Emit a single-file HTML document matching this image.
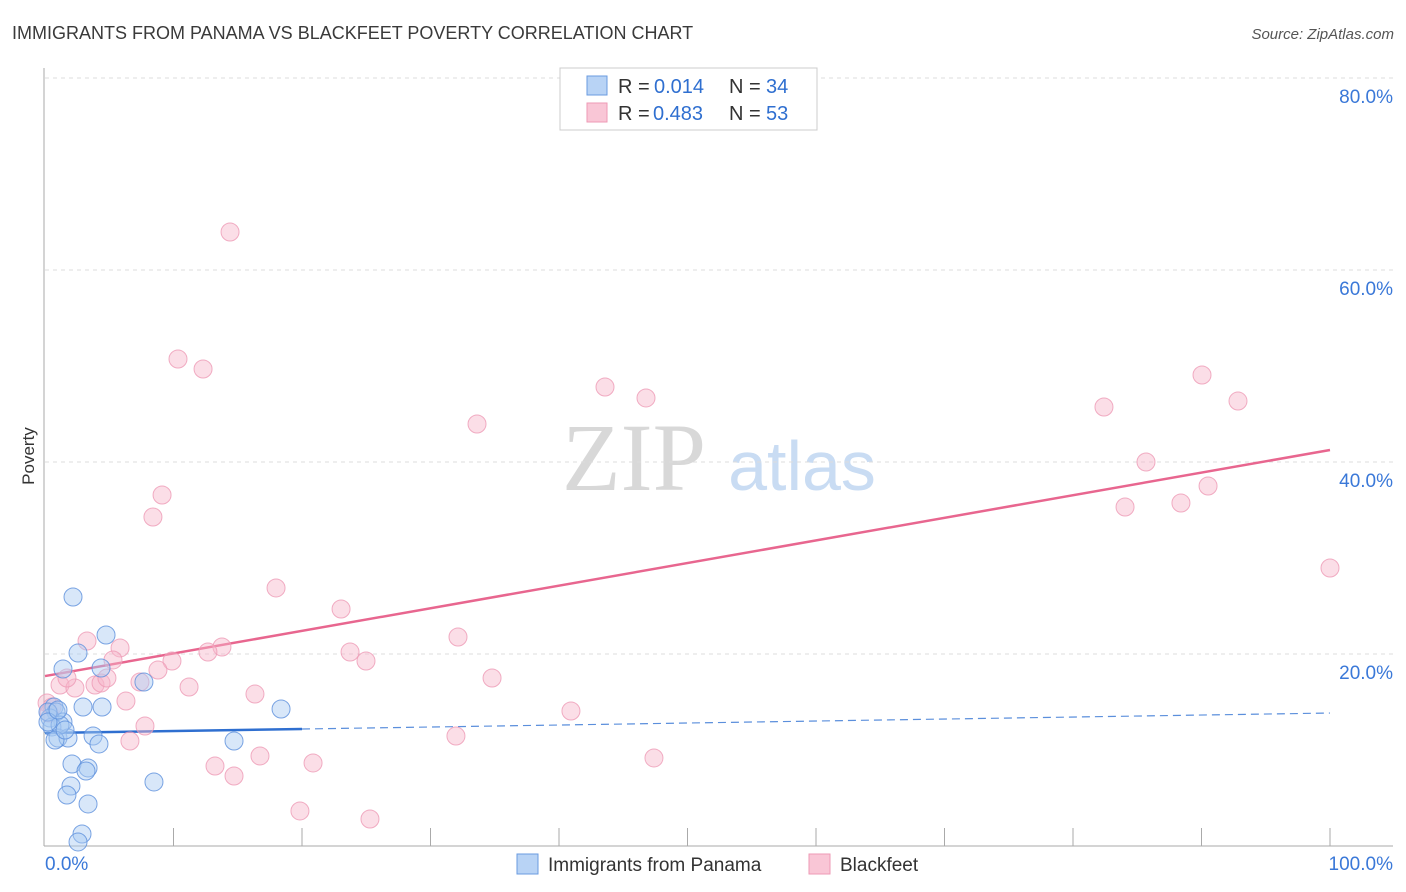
<!DOCTYPE html>
<html><head><meta charset="utf-8"><style>
body{margin:0;background:#fff;width:1406px;height:892px;overflow:hidden;font-family:"Liberation Sans",sans-serif}
</style></head><body>
<svg id="chart" width="1406" height="892" style="position:absolute;left:0;top:0">
<text x="12" y="39" font-size="18" fill="#3a3a3a">IMMIGRANTS FROM PANAMA VS BLACKFEET POVERTY CORRELATION CHART</text>
<text x="1394" y="39" font-size="15" fill="#555" font-style="italic" text-anchor="end">Source: ZipAtlas.com</text>
<text x="34" y="456" font-size="17" fill="#333" text-anchor="middle" transform="rotate(-90 34 456)">Poverty</text>
<g>
<text x="634" y="490" font-size="96" fill="#d8d8d8" font-family="Liberation Serif,serif" text-anchor="middle">ZIP</text>
<text x="802" y="490" font-size="70" fill="#c9dcf3" text-anchor="middle">atlas</text>
</g>
<g id="grid"></g><g id="axes"></g><g id="lines"></g><g id="pts"></g>
<g>
<rect x="560" y="68" width="257" height="62" fill="#fff" stroke="#ccc"/>
<rect x="587" y="76" width="20" height="19" fill="#b8d3f5" stroke="#6a9be0"/>
<g font-size="20">
<text x="618" y="93" fill="#333">R =</text><text x="654" y="93" fill="#2f6fd0">0.014</text>
<text x="729" y="93" fill="#333">N =</text><text x="766" y="93" fill="#2f6fd0">34</text></g>
<rect x="587" y="103" width="20" height="19" fill="#f9c6d6" stroke="#ee9ab5"/>
<g font-size="20">
<text x="618" y="120" fill="#333">R =</text><text x="653" y="120" fill="#2f6fd0">0.483</text>
<text x="729" y="120" fill="#333">N =</text><text x="766" y="120" fill="#2f6fd0">53</text></g>
</g>
<g>
<rect x="517" y="854" width="21" height="20" fill="#b8d3f5" stroke="#6a9be0"/>
<text x="548" y="871" font-size="19" fill="#333">Immigrants from Panama</text>
<rect x="809" y="854" width="21" height="20" fill="#f9c6d6" stroke="#ee9ab5"/>
<text x="840" y="871" font-size="19" fill="#333">Blackfeet</text>
</g>
</svg>
<script>
const yTicks=[20,40,60,80];
const yTickLabels=["20.0%","40.0%","60.0%","80.0%"];
const xLabels=["0.0%","100.0%"];
const blueX=[2.18,4.75,2.57,1.40,4.36,7.70,2.96,4.44,0.70,0.86,0.39,1.40,0.54,1.01,1.79,3.74,4.20,14.71,18.37,2.10,3.35,3.19,8.48,2.02,1.71,3.35,2.88,2.57,1.17,0.23,0.78,1.56,0.23,1.01];
const blueY=[25.94,21.98,20.1,18.44,18.54,17.08,14.48,14.48,14.48,13.96,13.33,12.92,12.40,11.25,11.25,11.46,10.63,10.94,14.27,8.54,8.13,7.81,6.67,6.25,5.31,4.38,1.25,0.42,12.6,13.96,11.04,12.08,12.92,14.17];
const pinkX=[14.40,10.35,12.30,9.11,8.40,17.98,23.04,3.27,5.84,13.77,12.68,5.29,9.88,23.74,24.98,32.14,8.79,1.17,2.33,1.71,3.89,4.36,4.82,7.39,11.21,16.34,6.30,34.79,40.93,7.78,6.61,13.23,14.71,16.73,20.86,31.98,47.39,19.84,25.29,43.58,46.77,33.62,82.41,90.04,92.84,85.68,84.05,88.40,90.51,100,0.16,0.54,0.31];
const pinkY=[63.96,50.73,49.69,36.56,34.27,26.88,24.69,21.35,20.63,20.73,20.21,19.38,19.27,20.21,19.27,21.77,18.33,16.77,16.46,17.5,16.77,16.98,17.5,17.08,16.56,15.83,15.10,17.5,14.06,12.5,10.94,8.33,7.29,9.38,8.65,11.46,9.17,3.65,2.81,47.81,46.67,43.96,45.73,49.06,46.35,40.0,35.31,35.73,37.5,28.96,14.9,14.48,13.85];
const pinkTrend=[17.7,41.25];
const blueTrend=[11.77,13.85];
const blueSolidEnd=20;
const NS='http://www.w3.org/2000/svg';
const sx=v=>45+v*12.85, sy=v=>846-v*9.6;
function mk(tag,attrs,parent){const e=document.createElementNS(NS,tag);for(const k in attrs)e.setAttribute(k,attrs[k]);document.getElementById(parent).appendChild(e);return e;}
yTicks.forEach((t,i)=>{
 const g=mk('line',{x1:45,x2:1393,y1:sy(t),y2:sy(t),stroke:'#ddd','stroke-dasharray':'4,4'},'grid');
 
 
 const l=mk('text',{x:1393,y:sy(t)+25,'font-size':19,fill:'#3a78d8','text-anchor':'end'},'grid');
 l.textContent=yTickLabels[i];
 
 
});
const ax=mk('line',{x1:44,x2:44,y1:68,y2:846,stroke:'#aaa'},'axes');


const bx=mk('line',{x1:44,x2:1393,y1:846,y2:846,stroke:'#aaa'},'axes');


for(let k=1;k<=10;k++){const t=mk('line',{x1:sx(k*10),x2:sx(k*10),y1:828,y2:846,stroke:'#aaa'},'axes');
 
 }
[[0,'start',45],[100,'end',1393]].forEach((d,i)=>{const t=mk('text',{x:d[2],y:870,'font-size':19,fill:'#3a78d8','text-anchor':d[1]},'axes');t.textContent=xLabels[i];
 
 });
function dots(X,Y,fill,stroke,name){X.forEach((x,i)=>{const c=mk('circle',{cx:sx(x),cy:sy(Y[i]),r:9,fill:fill,'fill-opacity':0.45,stroke:stroke,'stroke-width':1,'stroke-opacity':0.8},'pts');
 
 });}
dots(pinkX,pinkY,'#f7b6ca','#ee9ab5','blackfeet-point');
dots(blueX,blueY,'#a9c9f1','#5b8fdc','panama-point');
const pl=mk('line',{x1:sx(0),y1:sy(pinkTrend[0]),x2:sx(100),y2:sy(pinkTrend[1]),stroke:'#e8668f','stroke-width':2.5},'lines');


const bm=blueTrend[0]+(blueTrend[1]-blueTrend[0])*blueSolidEnd/100;
const b1=mk('line',{x1:sx(0),y1:sy(blueTrend[0]),x2:sx(blueSolidEnd),y2:sy(bm),stroke:'#2f6fd0','stroke-width':2.5},'lines');


const b2=mk('line',{x1:sx(blueSolidEnd),y1:sy(bm),x2:sx(100),y2:sy(blueTrend[1]),stroke:'#5b8fdc','stroke-width':1.2,'stroke-dasharray':'8,5'},'lines');


</script>
</body></html>
